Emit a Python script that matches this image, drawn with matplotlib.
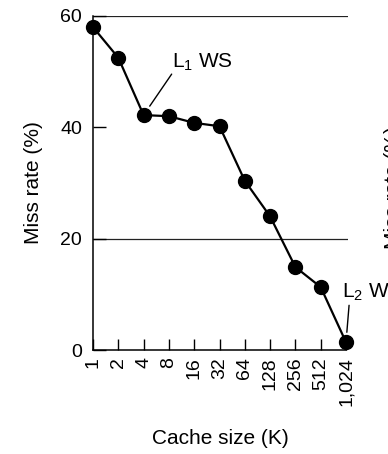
import matplotlib
matplotlib.use("Agg")
import matplotlib.pyplot as plt

plt.rcParams['font.family'] = ['Liberation Sans', 'DejaVu Sans']
plt.rcParams['mathtext.fontset'] = 'custom'
plt.rcParams['mathtext.rm'] = 'Liberation Sans'
plt.rcParams['mathtext.it'] = 'Liberation Sans'

# cache sizes (K) and miss rates (%)
cache_sizes = ["1", "2", "4", "8", "16", "32", "64", "128", "256", "512", "1,024"]
miss_rate = [58.0, 52.5, 42.2, 42.0, 40.8, 40.2, 30.4, 24.0, 14.9, 11.3, 1.4]
y_ticks = [0, 20, 40, 60]
grid_levels = [20, 60]

fig = plt.figure(figsize=(3.88, 4.54), dpi=100)
ax = fig.add_axes([0.2397, 0.229, 0.897 - 0.2397, 0.9648 - 0.229])

xs = list(range(len(cache_sizes)))
for g in grid_levels:
    ax.axhline(g, color='#222222', lw=0.9, zorder=1)

ax.plot(xs, miss_rate, color='black', lw=1.6, marker='o', markersize=10,
        markerfacecolor='black', markeredgecolor='black', zorder=3, clip_on=False)

ax.set_xlim(0, 10.08)
ax.set_ylim(0, 60)
ax.set_xticks(xs)
ax.set_xticklabels(cache_sizes, rotation=90, fontsize=14)
ax.set_yticks(y_ticks)
ax.set_yticklabels([str(v) for v in y_ticks], fontsize=14)
ax.tick_params(axis='x', direction='in', length=8, width=1.0, pad=5)
ax.tick_params(axis='y', direction='in', length=9, width=1.0, pad=8)

for s in ['top', 'right']:
    ax.spines[s].set_visible(False)
for s in ['left', 'bottom']:
    ax.spines[s].set_linewidth(1.1)
ax.spines['bottom'].set_bounds(0, 10.0)

ax.set_xlabel("Cache size (K)", fontsize=15, labelpad=17)
ax.set_ylabel("Miss rate (%)", fontsize=15, labelpad=12)

# working-set annotations
i1 = cache_sizes.index("4")
ax.annotate("", xy=(i1, miss_rate[i1]), xytext=(20.2, 29.5), textcoords='offset points',
            xycoords='data',
            arrowprops=dict(arrowstyle='-', lw=1.0, color='black', shrinkA=0, shrinkB=7.8))
ax.annotate(r"L$_1$ WS", xy=(i1, miss_rate[i1]), xytext=(20.2, 33.8),
            textcoords='offset points', ha='left', va='baseline', fontsize=15)

i2 = cache_sizes.index("1,024")
ax.annotate("", xy=(i2, miss_rate[i2]), xytext=(2.2, 26.6), textcoords='offset points',
            arrowprops=dict(arrowstyle='-', lw=1.0, color='black', shrinkA=0, shrinkB=7.2),
            annotation_clip=False)
ax.annotate(r"L$_2$ WS", xy=(i2, miss_rate[i2]), xytext=(-2.9, 32.4),
            textcoords='offset points', ha='left', va='baseline', fontsize=15,
            annotation_clip=False)

# edge of the neighbouring panel's y label
fig.text(384 / 388, 1 - 188 / 454, "Miss rate (%)", rotation=90, ha='left',
         va='center', fontsize=15)

fig.savefig("out.png", dpi=100)
